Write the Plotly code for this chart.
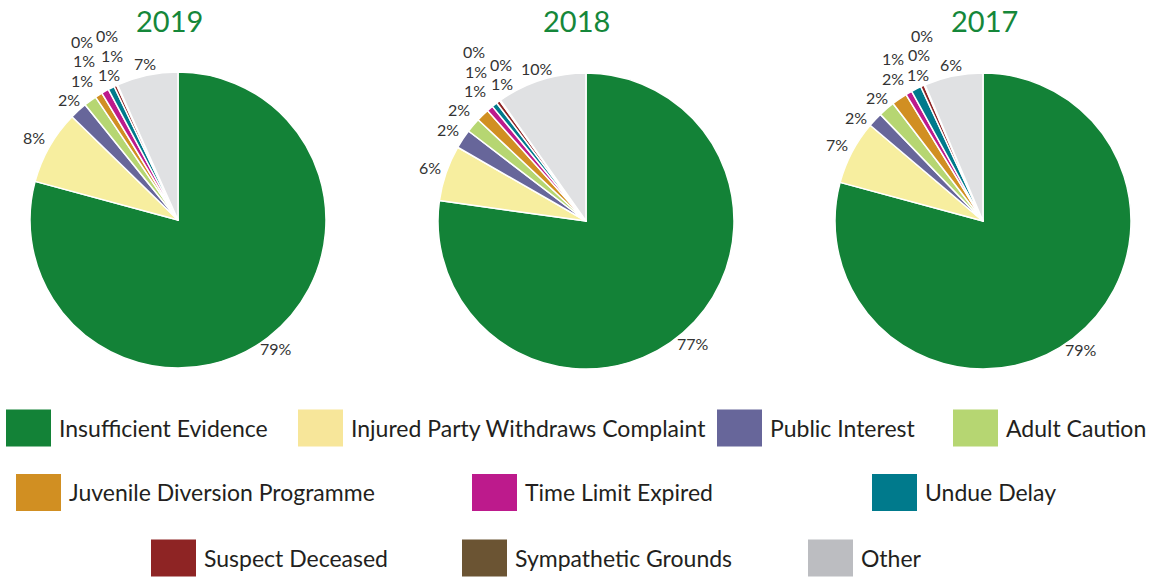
import math
import plotly.graph_objects as go

W, H = 1154, 579

categories = ["Insufficient Evidence", "Injured Party Withdraws Complaint", "Public Interest",
              "Adult Caution", "Juvenile Diversion Programme", "Time Limit Expired",
              "Undue Delay", "Suspect Deceased", "Sympathetic Grounds", "Other"]
years = ["2019", "2018", "2017"]
values_2019 = [79.2, 8.1, 1.9, 1.4, 0.8, 0.8, 0.7, 0.3, 0.1, 6.7]
values_2018 = [77.2, 6.1, 2.1, 1.6, 1.4, 0.7, 0.6, 0.4, 0.1, 9.8]
values_2017 = [79.2, 7.0, 1.6, 1.8, 1.7, 0.7, 1.1, 0.4, 0.1, 6.4]

pie_colors = ["#138237", "#f7ee9f", "#67669a", "#b6d672", "#d18f22", "#bd1a8c",
              "#007a8c", "#8e2424", "#6b5433", "#e0e1e3"]
legend_colors = ["#138237", "#f7e69a", "#67669a", "#b6d672", "#d18f22", "#bd1a8c",
                 "#007a8c", "#8e2424", "#6b5433", "#bcbdc1"]

# ---- layout (pixels) ----
pie_boxes = [(30, 72, 326, 368), (438, 73, 734, 369), (835, 73, 1131, 369)]
title_x = [169, 576, 984]
TITLE_Y = 20
legend_pos = [(6, 428), (298, 428), (717, 428), (953, 428),
              (16, 492.5), (472, 492.5), (872, 492.5),
              (151, 558), (462, 558), (808, 558)]
SW, SH, GAP = 45, 37, 8

FONT = "Lato, Open Sans, sans-serif"
TEXT = "#333333"
LBL_SIZE = 16

fig = go.Figure()
ann = []


def px2paper(x, y):
    return x / W, 1 - y / H


def edge_dist(ux, uy, w, h):
    return min((w / 2) / abs(ux) if abs(ux) > 1e-6 else 1e9,
               (h / 2) / abs(uy) if abs(uy) > 1e-6 else 1e9)


for yr, vals, (x0, y0, x1, y1), tx in zip(years, [values_2019, values_2018, values_2017],
                                          pie_boxes, title_x):
    fig.add_trace(go.Pie(
        labels=categories, values=vals, sort=False, direction="clockwise", rotation=0,
        marker=dict(colors=pie_colors, line=dict(color="white", width=1.5)),
        textinfo="none",
        domain=dict(x=[x0 / W, x1 / W], y=[1 - y1 / H, 1 - y0 / H]),
        showlegend=False, hoverinfo="label+percent",
    ))
    px, py = px2paper(tx, TITLE_Y)
    ann.append(dict(x=px, y=py, xref="paper", yref="paper", text=yr, showarrow=False,
                    xanchor="center", yanchor="middle",
                    font=dict(size=29, color="#15873a", family=FONT)))

    # outside percentage labels, positioned from the slice mid-angles
    cx, cy, r = (x0 + x1) / 2, (y0 + y1) / 2, (x1 - x0) / 2
    total = sum(vals)
    cum = 0.0
    items = []
    for v in vals:
        mid = (cum + v / 2) / total
        cum += v
        items.append((v, mid))
    placed = [(tx, TITLE_Y, 72, 38)]  # keep clear of the year title
    for v, mid in sorted(items, key=lambda t: -t[0]):
        pct = int(v / total * 100 + 0.5)
        txt = f"{pct}%"
        w = 9.0 * len(str(pct)) + 13
        h = 14
        cw, ch = w + 3, 19  # collision box (includes annotation padding)
        th0 = 2 * math.pi * mid
        ux0, uy0 = math.sin(th0), -math.cos(th0)
        d0 = r + 5 + edge_dist(ux0, uy0, w, h)
        ix, iy = cx + d0 * ux0, cy + d0 * uy0
        best = None
        for dd in range(0, 80):
            for da in range(-18, 19):
                th = th0 + math.radians(da)
                ux, uy = math.sin(th), -math.cos(th)
                d = r + 5 + edge_dist(ux, uy, w, h) + dd
                lx, ly = cx + d * ux, cy + d * uy
                if any(abs(lx - qx) < (cw + qw) / 2 and abs(ly - qy) < (ch + qh) / 2
                       for qx, qy, qw, qh in placed):
                    continue
                cost = math.hypot(lx - ix, ly - iy)
                if best is None or cost < best[0]:
                    best = (cost, lx, ly)
        _, lx, ly = best
        placed.append((lx, ly, cw, ch))
        ax, ay = px2paper(lx, ly)
        ann.append(dict(x=ax, y=ay, xref="paper", yref="paper", text=txt, showarrow=False,
                        xanchor="center", yanchor="middle",
                        font=dict(size=LBL_SIZE, color=TEXT, family=FONT)))

shapes = []
for cat, col, (lx, ly) in zip(categories, legend_colors, legend_pos):
    sx0, sy0 = px2paper(lx, ly + SH / 2)
    sx1, sy1 = px2paper(lx + SW, ly - SH / 2)
    shapes.append(dict(type="rect", xref="paper", yref="paper",
                       x0=sx0, x1=sx1, y0=sy0, y1=sy1,
                       fillcolor=col, line=dict(width=0)))
    tx_, ty_ = px2paper(lx + SW + GAP, ly)
    ann.append(dict(x=tx_, y=ty_, xref="paper", yref="paper", text=cat, showarrow=False,
                    xanchor="left", yanchor="middle", xshift=-2,
                    font=dict(size=23, color="#231f20", family=FONT)))

fig.update_layout(width=W, height=H,
                  margin=dict(l=0, r=0, t=0, b=0, pad=0, autoexpand=False),
                  paper_bgcolor="white", plot_bgcolor="white",
                  shapes=shapes, annotations=ann)
fig.write_html("out.html", post_script="document.body.style.margin='0';",
               config={"displayModeBar": False})
